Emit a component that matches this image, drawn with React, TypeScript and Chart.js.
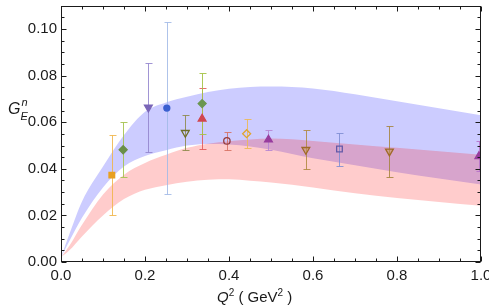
import React, { useEffect, useRef } from "react";
import { Chart, registerables } from "chart.js";
Chart.register(...registerables);

// ---- data ----
const q2 = [0.121, 0.148, 0.208, 0.252, 0.296, 0.336, 0.336, 0.395, 0.442, 0.494, 0.583, 0.663, 0.782, 0.995];
const gen = [0.0373, 0.0482, 0.0664, 0.0661, 0.0555, 0.0615, 0.0680, 0.0520, 0.0551, 0.0525, 0.0482, 0.0485, 0.0475, 0.0454];
const genErr = [0.0171, 0.0118, 0.019, 0.037, 0.0076, 0.013, 0.013, 0.0038, 0.0062, 0.0042, 0.0084, 0.0071, 0.0108, 0.0064];

const bandQ2 = [0, 0.02, 0.05, 0.1, 0.15, 0.2, 0.25, 0.3, 0.35, 0.4, 0.45, 0.5, 0.6, 0.7, 0.8, 0.9, 1.0];
const blueUpper = [0.002, 0.012, 0.026, 0.041, 0.0545, 0.0645, 0.0685, 0.0710, 0.0730, 0.0744, 0.0751, 0.0753, 0.0745, 0.072, 0.069, 0.066, 0.063];
const blueLower = [0.002, 0.009, 0.019, 0.032, 0.041, 0.0455, 0.048, 0.050, 0.0507, 0.0505, 0.0496, 0.0482, 0.0445, 0.0415, 0.0385, 0.0358, 0.0333];
const redUpper = [0.002, 0.007, 0.016, 0.029, 0.0375, 0.0425, 0.046, 0.049, 0.0508, 0.0518, 0.0526, 0.0530, 0.052, 0.0505, 0.049, 0.0475, 0.046];
const redLower = [0.002, 0.005, 0.011, 0.020, 0.027, 0.031, 0.033, 0.0345, 0.0353, 0.0355, 0.0349, 0.0341, 0.032, 0.0295, 0.0275, 0.0258, 0.0242];

const xTickValues = [0, 0.2, 0.4, 0.6, 0.8, 1.0];
const yTickValues = [0, 0.02, 0.04, 0.06, 0.08, 0.1];
const xMinorStep = 0.05;
const yMinorStep = 0.005;

// ---- styles ----
const markerStyles = ["rect", "rectRot", "triangle", "circle", "triangle", "triangle", "rectRot", "circle", "rectRot", "triangle", "triangle", "rect", "triangle", "triangle"];
const markerRotation = [0, 0, 180, 0, 180, 0, 0, 0, 0, 0, 180, 0, 180, 0];
const markerRadius = [4, 4, 4.5, 3, 4.5, 4.5, 4, 3.2, 4, 4.5, 4.5, 4, 4.5, 4.5];
const markerBorder = ["#e8a020", "#6a8f48", "#7a66b8", "#3a5fd0", "#6e6e28", "#d04650", "#6a9650", "#963c3c", "#e0a530", "#983c9e", "#a06a28", "#645aa8", "#a06a28", "#983c9e"];
const markerFill = ["#e8a020", "#6a8f48", "#7a66b8", "#3a5fd0", "rgba(255,255,255,0)", "#d04650", "#6a9650", "rgba(255,255,255,0)", "rgba(255,255,255,0)", "#983c9e", "rgba(200,150,80,0.5)", "rgba(255,255,255,0)", "rgba(200,150,80,0.5)", "#983c9e"];
const errColors = ["rgba(240,180,70,0.85)", "rgba(165,195,80,0.9)", "rgba(145,130,205,0.85)", "rgba(160,185,230,0.85)", "rgba(140,135,70,0.85)", "rgba(225,85,85,0.85)", "rgba(165,195,70,0.9)", "rgba(215,110,95,0.85)", "rgba(235,185,90,0.9)", "rgba(180,130,210,0.85)", "rgba(175,135,60,0.85)", "rgba(125,140,210,0.85)", "rgba(165,130,60,0.85)", "rgba(180,110,200,0.85)"];

const POINTS_INDEX = 4;
const FONT_FAMILY = "'Liberation Sans', Arial, sans-serif";

const errorBarPlugin = {
  id: "errbars",
  beforeDatasetDraw(chart: any, args: any) {
    if (args.index !== POINTS_INDEX) return;
    const { ctx, chartArea, scales } = chart;
    const x = scales.x, y = scales.y;
    ctx.save();
    ctx.beginPath();
    ctx.rect(chartArea.left, chartArea.top, chartArea.right - chartArea.left, chartArea.bottom - chartArea.top);
    ctx.clip();
    ctx.lineWidth = 1;
    q2.forEach((q, i) => {
      const px = Math.round(x.getPixelForValue(q)) + 0.5;
      const yt = Math.round(y.getPixelForValue(gen[i] + genErr[i])) + 0.5;
      const yb = Math.round(y.getPixelForValue(gen[i] - genErr[i])) + 0.5;
      ctx.strokeStyle = errColors[i];
      ctx.beginPath();
      ctx.moveTo(px, yt);
      ctx.lineTo(px, yb);
      ctx.moveTo(px - 3, yt);
      ctx.lineTo(px + 4, yt);
      ctx.moveTo(px - 3, yb);
      ctx.lineTo(px + 4, yb);
      ctx.stroke();
    });
    ctx.restore();
  },
};

function drawRuns(ctx: CanvasRenderingContext2D, runs: { t: string; font: string; dy: number }[], x: number, y: number) {
  let cx = x;
  runs.forEach((r) => {
    ctx.font = r.font;
    ctx.fillText(r.t, cx, y + r.dy);
    cx += ctx.measureText(r.t).width;
  });
}

const framePlugin = {
  id: "frame",
  afterDraw(chart: any) {
    const { ctx, chartArea, scales } = chart;
    const x = scales.x, y = scales.y;
    const L = Math.round(chartArea.left) + 0.5, R = Math.round(chartArea.right) - 0.5;
    const T = Math.round(chartArea.top) + 0.5, B = Math.round(chartArea.bottom) - 0.5;
    ctx.save();
    ctx.strokeStyle = "#1a1a1a";
    ctx.lineWidth = 1;
    ctx.strokeRect(L, T, R - L, B - T);
    ctx.beginPath();
    for (let k = 0; k * xMinorStep <= 1.0001; k++) {
      const v = k * xMinorStep;
      const isMajor = xTickValues.some((m) => Math.abs(m - v) < 1e-6);
      const len = isMajor ? 5 : 3;
      const px = Math.round(x.getPixelForValue(v)) + 0.5;
      ctx.moveTo(px, B);
      ctx.lineTo(px, B - len);
      ctx.moveTo(px, T);
      ctx.lineTo(px, T + len);
    }
    for (let k = 0; k * yMinorStep <= 0.11 + 1e-9; k++) {
      const v = k * yMinorStep;
      const isMajor = yTickValues.some((m) => Math.abs(m - v) < 1e-6);
      const len = isMajor ? 5 : 3;
      const py = Math.round(y.getPixelForValue(v)) + 0.5;
      ctx.moveTo(L, py);
      ctx.lineTo(L + len, py);
      ctx.moveTo(R, py);
      ctx.lineTo(R - len, py);
    }
    ctx.stroke();

    ctx.fillStyle = "#1a1a1a";
    ctx.textBaseline = "alphabetic";
    ctx.textAlign = "left";
    ctx.font = `italic 16px ${FONT_FAMILY}`;
    ctx.fillText("G", 8, 114);
    const gw = ctx.measureText("G").width;
    ctx.font = `italic 11px ${FONT_FAMILY}`;
    ctx.fillText("n", 8 + gw + 1, 106);
    ctx.fillText("E", 8 + gw, 120);
    drawRuns(ctx, [
      { t: "Q", font: `italic 15px ${FONT_FAMILY}`, dy: 0 },
      { t: "2", font: `10px ${FONT_FAMILY}`, dy: -6 },
      { t: " ( GeV", font: `15px ${FONT_FAMILY}`, dy: 0 },
      { t: "2", font: `10px ${FONT_FAMILY}`, dy: -6 },
      { t: " )", font: `15px ${FONT_FAMILY}`, dy: 0 },
    ], 217, 302);
    ctx.restore();
  },
};

export default function App() {
  const ref = useRef<HTMLCanvasElement>(null);
  useEffect(() => {
    document.body.style.margin = "0";
    const band = (data: number[], fill: any, color: string, order: number) => ({
      type: "line" as const,
      data: bandQ2.map((q, i) => ({ x: q, y: data[i] })),
      showLine: true,
      fill,
      backgroundColor: color,
      borderColor: "rgba(0,0,0,0)",
      borderWidth: 0,
      pointRadius: 0,
      cubicInterpolationMode: "monotone" as const,
      order,
    });
    const chart = new Chart(ref.current!, {
      type: "scatter",
      data: {
        datasets: [
          band(blueUpper, { target: 1 }, "rgba(0,0,255,0.2)", 4),
          band(blueLower, false, "rgba(0,0,0,0)", 4),
          band(redUpper, { target: 3 }, "rgba(255,0,0,0.2)", 3),
          band(redLower, false, "rgba(0,0,0,0)", 3),
          {
            type: "scatter",
            data: q2.map((q, i) => ({ x: q, y: gen[i] })),
            pointStyle: markerStyles as any,
            rotation: markerRotation,
            pointRadius: markerRadius,
            backgroundColor: markerFill,
            borderColor: markerBorder,
            borderWidth: 1.3,
            order: 0,
          } as any,
        ],
      },
      options: {
        animation: false,
        responsive: false,
        maintainAspectRatio: false,
        layout: { padding: { top: 2, right: 8, left: 0, bottom: 0 } },
        plugins: { legend: { display: false }, tooltip: { enabled: false } },
        scales: {
          x: {
            type: "linear",
            min: 0,
            max: 1,
            grid: { display: false, drawTicks: false },
            border: { display: false },
            ticks: {
              padding: 5,
              color: "#1a1a1a",
              font: { family: FONT_FAMILY, size: 15 },
              callback: (v: any) => Number(v).toFixed(1),
            },
            afterBuildTicks: (s: any) => {
              s.ticks = xTickValues.map((v) => ({ value: v }));
            },
            afterFit: (s: any) => {
              s.height = 45;
              s.paddingLeft = 0;
              s.paddingRight = 0;
            },
          },
          y: {
            type: "linear",
            min: 0,
            max: 0.11,
            grid: { display: false, drawTicks: false },
            border: { display: false },
            ticks: {
              padding: 4,
              color: "#1a1a1a",
              font: { family: FONT_FAMILY, size: 15 },
              callback: (v: any) => Number(v).toFixed(2),
            },
            afterBuildTicks: (s: any) => {
              s.ticks = yTickValues.map((v) => ({ value: v }));
            },
            afterFit: (s: any) => {
              s.width = 61;
              s.paddingTop = 0;
              s.paddingBottom = 0;
            },
          },
        },
      },
      plugins: [errorBarPlugin, framePlugin],
    });
    return () => chart.destroy();
  }, []);
  return <canvas ref={ref} width={489} height={307} style={{ display: "block" }} />;
}
